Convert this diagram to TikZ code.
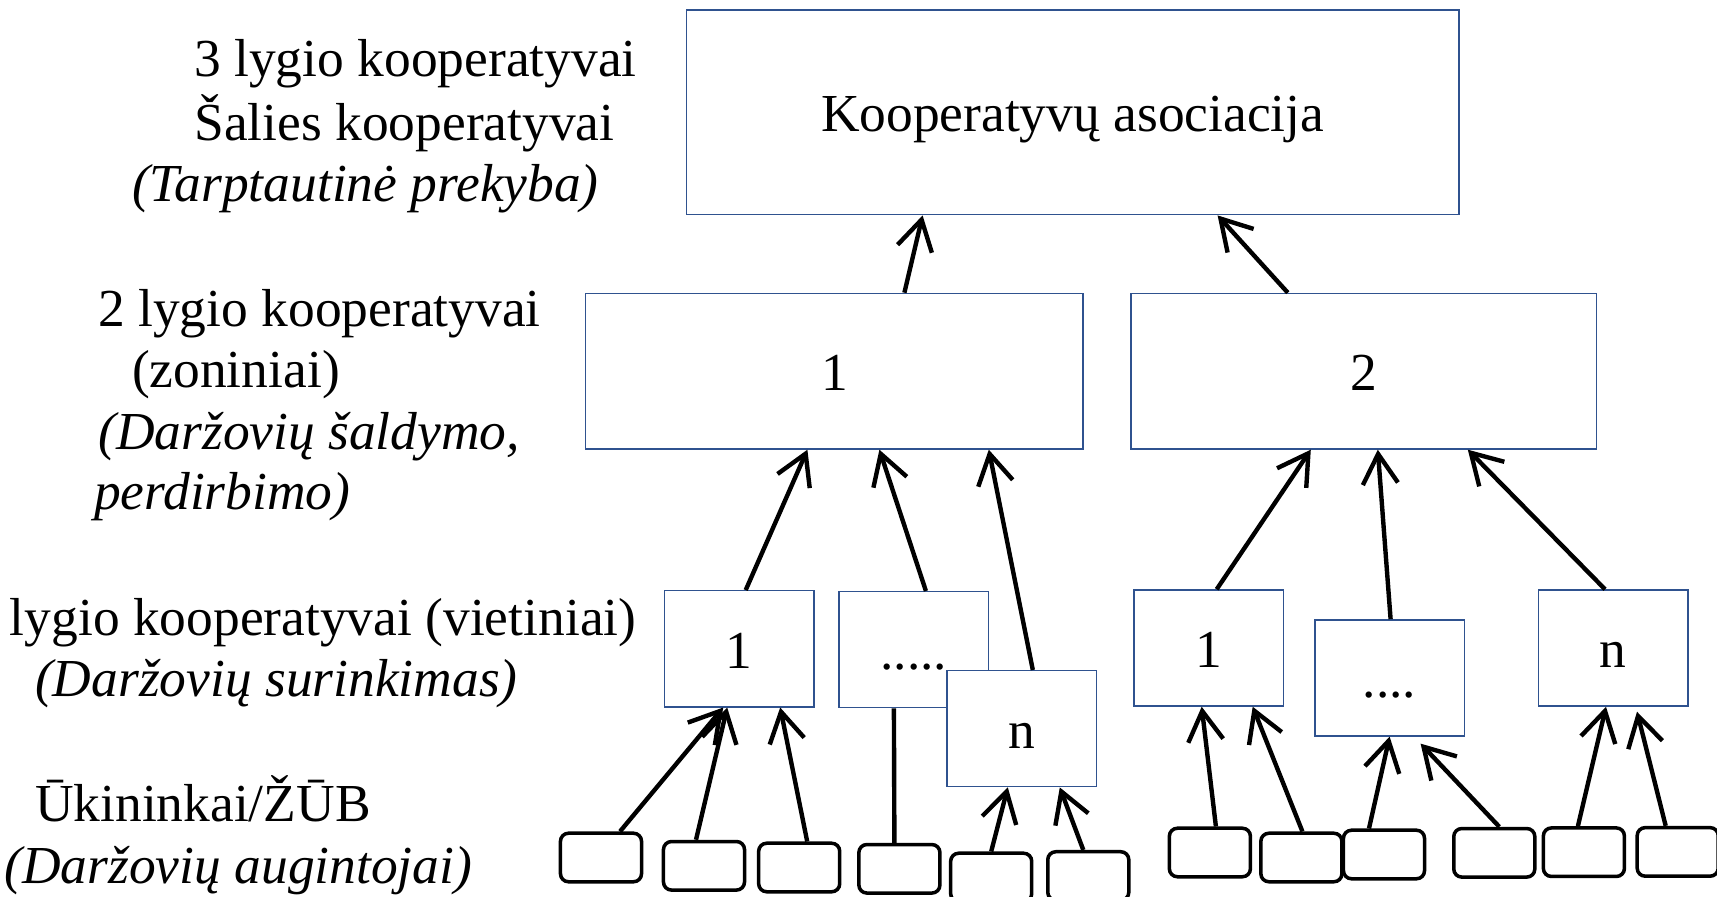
\documentclass[tikz,border=0pt]{standalone}
\usepackage{fontspec}
\setmainfont{Liberation Serif}
\usetikzlibrary{arrows.meta,calc}
\definecolor{boxblue}{RGB}{47,82,143}
\newcommand{\lvlfont}{\fontsize{15.2pt}{18pt}\selectfont}

\begin{document}
\begin{tikzpicture}[x=0.01cm,y=-0.01cm,
  cbox/.style={draw=boxblue,line width=0.4pt,fill=white,text height=0.39cm,text depth=0pt},
  small/.style={cbox,minimum width=1.495cm,minimum height=1.16cm},
  fbox/.style={draw=black,line width=1pt,rounded corners=0.08cm,fill=white,minimum width=0.81cm,minimum height=0.485cm},
  arr/.style={line width=1.25pt,-{Straight Barb[length=8.5pt,width=10pt]}},
  lbl/.style={anchor=base west},
  ilbl/.style={anchor=base west,font=\lvlfont\itshape}]
\tikzstyle{every node}+=[inner sep=0pt,font=\lvlfont]
\useasboundingbox (0,0) rectangle (1717,897);
% level texts
\node[lbl] (t3a) at (193.6,76.7) {3 lygio kooperatyvai};
\node[lbl] (t3b) at (193.6,140) {Šalies kooperatyvai};
\node[ilbl] (t3c) at (131.3,202) {(Tarptautinė prekyba)};
\node[lbl] (t2a) at (97.6,326.5) {2 lygio kooperatyvai};
\node[lbl] (t2b) at (131.3,387) {(zoniniai)};
\node[ilbl] (t2c) at (97.6,449) {(Daržovių šaldymo,};
\node[ilbl] (t2d) at (93.4,509.7) {perdirbimo)};
\node[lbl] (t1a) at (9.2,635) {lygio kooperatyvai (vietiniai)};
\node[ilbl] (t1b) at (34.4,696.7) {(Daržovių surinkimas)};
\node[lbl] (t0a) at (34.4,821.7) {Ūkininkai/ŽŪB};
\node[ilbl] (t0b) at (3.8,883.3) {(Daržovių augintojai)};
% cooperative boxes
\node[cbox,minimum width=7.72cm,minimum height=2.047cm] (assoc) at (1072.6,112.3) {Kooperatyvų asociacija};
\node[cbox,minimum width=4.972cm,minimum height=1.555cm] (z1) at (834.4,371.2) {1};
\node[cbox,minimum width=4.655cm,minimum height=1.555cm] (z2) at (1363.8,371.2) {2};
\node[small] (v1) at (739.2,648.8) {1};
\node[small] (vdots) at (913.9,649.7) {.....};
\node[small] (vn) at (1021.8,728.7) {n};
\node[small] (r1) at (1208.7,648) {1};
\node[small] (rdots) at (1389.6,677.9) {....};
\node[small] (rn) at (1613,648) {n};
% farmers
\node[fbox] (f1) at (601,857.5) {};
\node[fbox] (f2) at (704,865.8) {};
\node[fbox] (f3) at (799.2,867.5) {};
\node[fbox] (f4) at (899.4,868.8) {};
\node[fbox] (f5) at (991.2,877.5) {};
\node[fbox] (f6) at (1088.3,876) {};
\node[fbox] (f7) at (1209.9,852.5) {};
\node[fbox] (f8) at (1301.4,857.5) {};
\node[fbox] (f9) at (1384,854.5) {};
\node[fbox] (f10) at (1494.3,852.8) {};
\node[fbox] (f11) at (1583.9,852.2) {};
\node[fbox] (f12) at (1677.7,851.9) {};
% upper arrows
\draw[arr] ($(z1.north)+(70,0)$) -- ($(assoc.south)+(-150,0)$);
\draw[arr] ($(z2.north)+(-76,0)$) -- ($(assoc.south)+(145,0)$);
\draw[arr] ($(v1.north)+(6.5,0)$) -- ($(z1.south)+(-27,0)$);
\draw[arr] ($(vdots.north)+(12,0)$) -- ($(z1.south)+(45,0)$);
\draw[arr] ($(vn.north)+(11,0)$) -- ($(z1.south)+(154.4,0)$);
\draw[arr] ($(r1.north)+(8,0)$) -- ($(z2.south)+(-53,0)$);
\draw[arr] ($(rdots.north)+(1,0)$) -- ($(z2.south)+(14,0)$);
\draw[arr] ($(rn.north)+(-8,0)$) -- ($(z2.south)+(104,0)$);
% farmer arrows
\draw[arr] ($(f1.north)+(19,0)$) -- ($(v1.south)+(-16,0)$);
\draw[arr] ($(f2.north)+(-8,0)$) -- ($(v1.south)+(-12,0)$);
\draw[arr] ($(f3.north)+(8,0)$) -- ($(v1.south)+(41,0)$);
\draw[line width=1.25pt] ($(f4.north)+(-5,0)$) -- ($(vdots.south)+(-20,0)$);
\draw[arr] (f5.north) -- ($(vn.south)+(-14,0)$);
\draw[arr] ($(f6.north)+(-5,0)$) -- ($(vn.south)+(38,0)$);
\draw[arr] ($(f7.north)+(6,0)$) -- ($(r1.south)+(-7,0)$);
\draw[arr] ($(f8.north)+(1,0)$) -- ($(r1.south)+(44,0)$);
\draw[arr] ($(f9.north)+(-15,0)$) -- (rdots.south);
\draw[arr] ($(f10.north)+(5,0)$) -- ($(rdots.south)+(31,7)$);
\draw[arr] ($(f11.north)+(-6,0)$) -- ($(rn.south)+(-7,0)$);
\draw[arr] ($(f12.north)+(-12,0)$) -- ($(rn.south)+(24,5)$);
\end{tikzpicture}
\end{document}
